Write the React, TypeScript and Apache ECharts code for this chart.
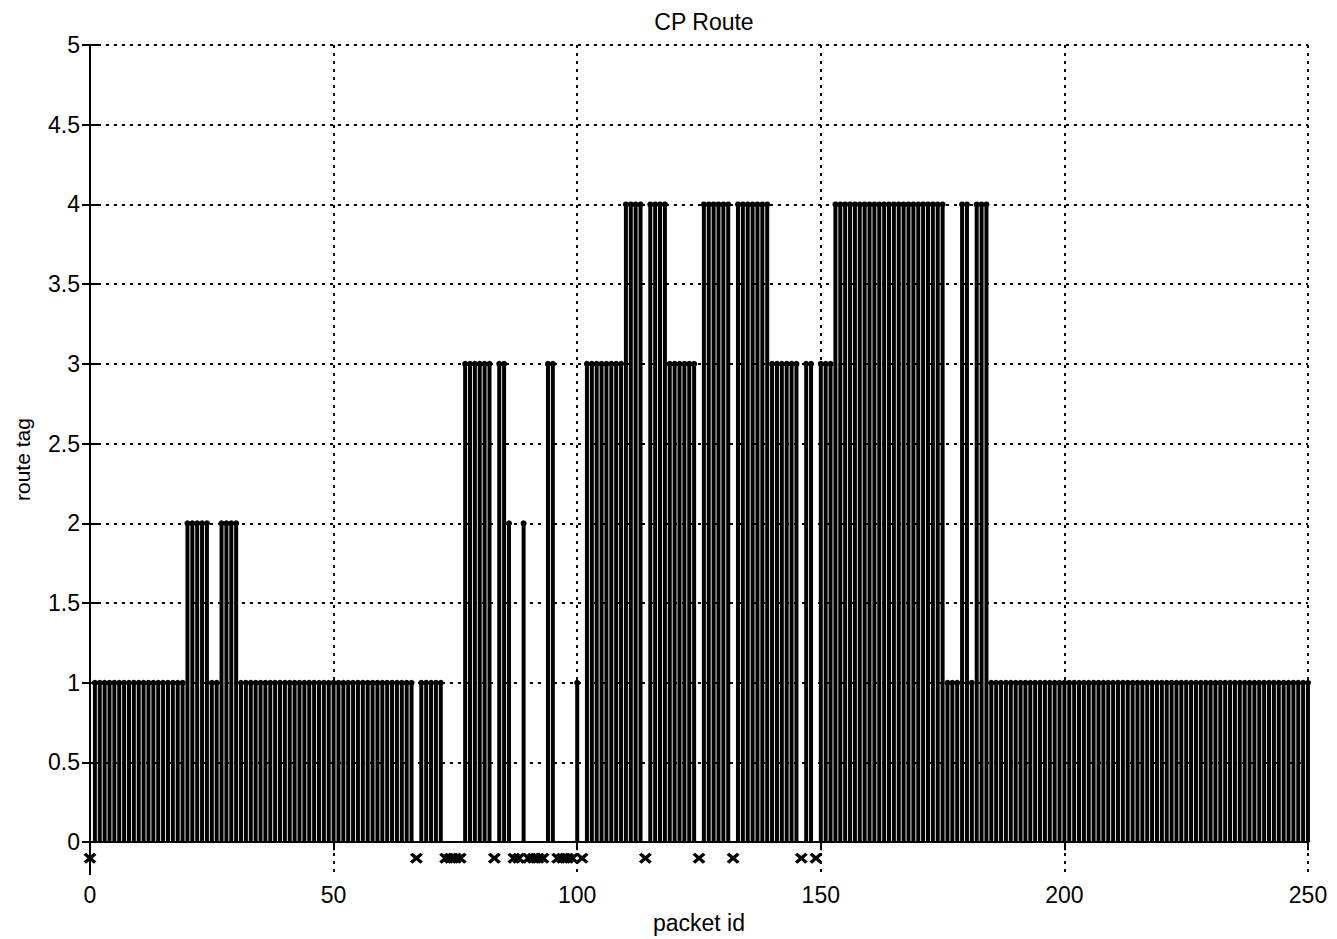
import React, { useEffect, useRef } from "react";
import * as echarts from "echarts";

// route tag per packet id 0..250 (null = packet not routed / lost, drawn as "x")
const routeTag: (number | null)[] = [
  null, 1, 1, 1, 1, 1, 1, 1, 1, 1,
  1, 1, 1, 1, 1, 1, 1, 1, 1, 1,
  2, 2, 2, 2, 2, 1, 1, 2, 2, 2,
  2, 1, 1, 1, 1, 1, 1, 1, 1, 1,
  1, 1, 1, 1, 1, 1, 1, 1, 1, 1,
  1, 1, 1, 1, 1, 1, 1, 1, 1, 1,
  1, 1, 1, 1, 1, 1, 1, null, 1, 1,
  1, 1, 1, null, null, null, null, 3, 3, 3,
  3, 3, 3, null, 3, 3, 2, null, null, 2,
  null, null, null, null, 3, 3, null, null, null, null,
  1, null, 3, 3, 3, 3, 3, 3, 3, 3,
  4, 4, 4, 4, null, 4, 4, 4, 4, 3,
  3, 3, 3, 3, 3, null, 4, 4, 4, 4,
  4, 4, null, 4, 4, 4, 4, 4, 4, 4,
  3, 3, 3, 3, 3, 3, null, 3, 3, null,
  3, 3, 3, 4, 4, 4, 4, 4, 4, 4,
  4, 4, 4, 4, 4, 4, 4, 4, 4, 4,
  4, 4, 4, 4, 4, 4, 1, 1, 1, 4,
  4, 1, 4, 4, 4, 1, 1, 1, 1, 1,
  1, 1, 1, 1, 1, 1, 1, 1, 1, 1,
  1, 1, 1, 1, 1, 1, 1, 1, 1, 1,
  1, 1, 1, 1, 1, 1, 1, 1, 1, 1,
  1, 1, 1, 1, 1, 1, 1, 1, 1, 1,
  1, 1, 1, 1, 1, 1, 1, 1, 1, 1,
  1, 1, 1, 1, 1, 1, 1, 1, 1, 1,
  1,
];

const lostLevel = -0.1;
const yTickValues = [0, 0.5, 1, 1.5, 2, 2.5, 3, 3.5, 4, 4.5, 5];
const xMin = 0;
const xMax = 250;
const xInterval = 50;
const yMin = -0.2;
const yMax = 5;

const FONT = "'Liberation Sans', Arial, Helvetica, sans-serif";
const X_SYMBOL =
  "path://M0,2 L2,0 L5,3 L8,0 L10,2 L7,5 L10,8 L8,10 L5,7 L2,10 L0,8 L3,5 Z";

export default function App() {
  const ref = useRef<HTMLDivElement>(null);

  useEffect(() => {
    if (!ref.current) return;
    const chart = echarts.init(ref.current, null, { renderer: "svg" });

    const stems: number[][] = [];
    const lost: number[][] = [];
    routeTag.forEach((v, i) => {
      if (v === null) lost.push([i, lostLevel]);
      else stems.push([i, v]);
    });

    const gridLine = {
      show: true,
      lineStyle: { color: "#000", width: 2, type: [3, 5] as number[] },
    };
    const axisLine = { show: true, lineStyle: { color: "#000", width: 2 } };
    const tick = { show: true, inside: true, length: 8, lineStyle: { color: "#000", width: 2 } };
    const label = { color: "#000", fontSize: 23, fontFamily: FONT };

    chart.setOption({
      animation: false,
      backgroundColor: "#ffffff",
      title: {
        text: "CP Route",
        left: 699,
        top: 5,
        textAlign: "center",
        textStyle: { color: "#000", fontSize: 23, fontWeight: "normal", fontFamily: FONT },
      },
      grid: { left: 90, right: 29, top: 45, bottom: 61, containLabel: false },
      xAxis: [
        {
          type: "value",
          min: xMin,
          max: xMax,
          interval: xInterval,
          name: "packet id",
          nameLocation: "middle",
          nameGap: 36,
          nameTextStyle: { color: "#000", fontSize: 23, fontFamily: FONT },
          axisLine,
          axisTick: tick,
          axisLabel: { ...label, margin: 9 },
          splitLine: gridLine,
        },
        {
          type: "value",
          position: "top",
          min: xMin,
          max: xMax,
          interval: xInterval,
          axisLine,
          axisTick: tick,
          axisLabel: { show: false },
          splitLine: { show: false },
        },
      ],
      yAxis: [
        {
          type: "value",
          min: yMin,
          max: yMax,
          name: "route tag",
          nameLocation: "middle",
          nameGap: 57,
          nameRotate: 90,
          nameTextStyle: { color: "#000", fontSize: 21, fontFamily: FONT },
          axisLine,
          axisTick: { ...tick, customValues: yTickValues },
          axisLabel: { ...label, margin: 10, customValues: yTickValues },
          splitLine: gridLine,
        },
        {
          type: "value",
          position: "right",
          min: yMin,
          max: yMax,
          axisLine,
          axisTick: { ...tick, customValues: yTickValues },
          axisLabel: { show: false, customValues: yTickValues },
          splitLine: { show: false },
        },
      ],
      series: [
        {
          type: "bar",
          data: stems,
          barWidth: 4,
          itemStyle: { color: "#000", opacity: 1 },
          xAxisIndex: 0,
          yAxisIndex: 0,
          silent: true,
        },
        {
          type: "scatter",
          data: stems,
          symbol: "circle",
          symbolSize: 6,
          itemStyle: { color: "#000", opacity: 1 },
          xAxisIndex: 0,
          yAxisIndex: 0,
          silent: true,
        },
        {
          type: "scatter",
          data: lost,
          symbol: X_SYMBOL,
          symbolSize: [13, 11],
          clip: false,
          itemStyle: { color: "#000", opacity: 1 },
          xAxisIndex: 0,
          yAxisIndex: 0,
          silent: true,
        },
      ],
    });

    return () => chart.dispose();
  }, []);

  return (
    <div
      ref={ref}
      style={{ position: "fixed", left: 0, top: 0, width: 1337, height: 939, background: "#fff" }}
    />
  );
}
